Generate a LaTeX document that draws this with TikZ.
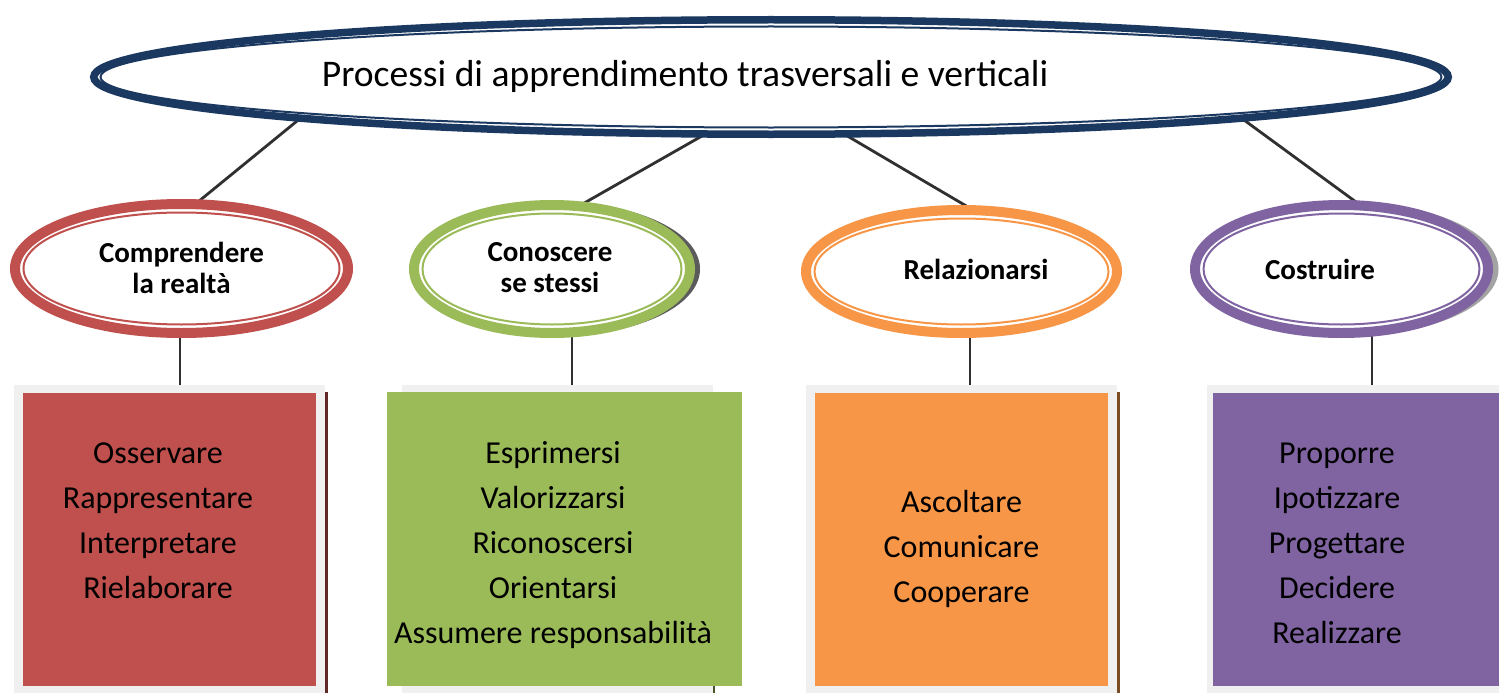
\documentclass[tikz,border=0pt]{standalone}
\usepackage{fontspec}
\setmainfont{Carlito}
\usetikzlibrary{shapes.geometric}
\pgfdeclarelayer{bg}
\pgfsetlayers{bg,main}
\definecolor{navy}{HTML}{1A3860}
\definecolor{cred}{HTML}{C0504D}
\definecolor{cgreen}{HTML}{9BBB59}
\definecolor{corange}{HTML}{F79646}
\definecolor{cpurple}{HTML}{8064A2}
\definecolor{framegray}{HTML}{F0F0F0}
\definecolor{linkgray}{HTML}{303030}
\begin{document}
\begin{tikzpicture}[x=1pt,y=-1pt,
  ring/.style={ellipse, draw=#1, line width=10pt, fill=white, outer sep=0pt, inner sep=0pt},
  innerring/.style={draw=#1, line width=2pt},
  link/.style={draw=linkgray, line width=2.8pt},
  item/.style={font=\fontsize{32}{38}\selectfont, anchor=base, inner sep=0pt},
  lbl/.style={font=\fontsize{29}{31}\selectfont\bfseries, align=center, inner sep=0pt},
  framebox/.style={fill=framegray, draw=none, anchor=north west, outer sep=0pt, inner sep=0pt},
  colbox/.style={fill=#1, draw=none, anchor=north west, outer sep=0pt, inner sep=0pt},
  boxshadow/.style={draw=#1, line width=3pt},
  ellshadow/.style={draw=black!#1, line width=6pt, opacity=0.8}
]
\useasboundingbox (0,0) rectangle (1499,693);

% ellipses
\node[ring=navy, line width=7.5pt, minimum width=1354.5pt, minimum height=114.5pt] (top) at (771,77) {};
\node[ring=cred, minimum width=333pt, minimum height=129pt] (c1) at (181.5,268.5) {};
\node[ring=cgreen, minimum width=276pt, minimum height=128pt] (c2) at (552,269) {};
\node[ring=corange, minimum width=311pt, minimum height=123pt] (c3) at (961.5,271.5) {};
\node[ring=cpurple, minimum width=293pt, minimum height=128pt] (c4) at (1341.5,269) {};

\draw[innerring=navy] (top.center) ellipse [x radius=670.5pt, y radius=50.5pt];
\draw[innerring=cred] (c1.center) ellipse [x radius=158pt, y radius=56pt];
\draw[innerring=cgreen] (c2.center) ellipse [x radius=129.5pt, y radius=55.5pt];
\draw[innerring=corange] (c3.center) ellipse [x radius=147pt, y radius=53pt];
\draw[innerring=cpurple] (c4.center) ellipse [x radius=138pt, y radius=55.5pt];

% texts in ellipses
\node[font=\fontsize{37.6}{44}\selectfont, anchor=base, inner sep=0pt] (title) at (685,86) {Processi di apprendimento trasversali e verticali};
\node[lbl] (l1) at (181.5,267.5) {Comprendere\\la realtà};
\node[lbl] (l2) at (550,267.5) {Conoscere\\se stessi};
\node[lbl, anchor=base] (l3) at (976,279) {Relazionarsi};
\node[lbl, anchor=base] (l4) at (1320,279) {Costruire};

% boxes
\node[framebox, minimum width=311pt, minimum height=308pt] (f1) at (14,385) {};
\node[framebox, minimum width=311pt, minimum height=308pt] (f2) at (402,385) {};
\node[framebox, minimum width=311pt, minimum height=308pt] (f3) at (806,385) {};
\node[framebox, minimum width=292pt, minimum height=308pt] (f4) at (1207,385) {};

\node[colbox=cred, minimum width=293pt, minimum height=293pt] (b1) at (23,393) {};
\node[colbox=cgreen, minimum width=355pt, minimum height=294pt] (b2) at (387,392) {};
\node[colbox=corange, minimum width=293pt, minimum height=293pt] (b3) at (815,393) {};
\node[colbox=cpurple, minimum width=286pt, minimum height=293pt] (b4) at (1213,393) {};

\foreach \t [count=\i] in {Osservare,Rappresentare,Interpretare,Rielaborare}
  \node[item] (r\i) at (158,{463+45*(\i-1)}) {\t};
\foreach \t [count=\i] in {Esprimersi,Valorizzarsi,Riconoscersi,Orientarsi,Assumere responsabilità}
  \node[item] (g\i) at (553,{463+45*(\i-1)}) {\t};
\foreach \t [count=\i] in {Ascoltare,Comunicare,Cooperare}
  \node[item] (o\i) at (961.5,{512+45*(\i-1)}) {\t};
\foreach \t [count=\i] in {Proporre,Ipotizzare,Progettare,Decidere,Realizzare}
  \node[item] (p\i) at (1337,{463+45*(\i-1)}) {\t};

\coordinate (v1) at (180,0);
\coordinate (v2) at (572,0);
\coordinate (v3) at (970,0);
\coordinate (v4) at (1372,0);

\begin{pgfonlayer}{bg}
  \fill[white] (0,0) rectangle (1499,693);
  % shadows
  \draw[ellshadow=80] ([xshift=5pt]c2.center) ellipse [x radius=140pt, y radius=64pt];
  \draw[ellshadow=45] ([xshift=5pt]c4.center) ellipse [x radius=149pt, y radius=64pt];
  \draw[boxshadow=cred!50!black] (f1.north east) ++(1.5,7) -- ++(0,301);
  \draw[boxshadow=cgreen!45!black, line width=2.5pt] (f2.north east) ++(1,7) -- ++(0,301);
  \draw[boxshadow=corange!50!black] (f3.north east) ++(1.5,7) -- ++(0,301);
  % connectors
  \draw[link] (top.185.2) -- (c1.78.2);
  \draw[link] (top.221.2) -- (c2.67);
  \draw[link] (top.322.2) -- (c3.79.8);
  \draw[link] (top.355.1) -- (c4.73.3);
  \draw[link] (c1.south -| v1) -- (f1.north -| v1);
  \draw[link] (c2.south -| v2) -- (f2.north -| v2);
  \draw[link] (c3.south -| v3) -- (f3.north -| v3);
  \draw[link] (c4.south -| v4) -- (f4.north -| v4);
\end{pgfonlayer}
\end{tikzpicture}
\end{document}
